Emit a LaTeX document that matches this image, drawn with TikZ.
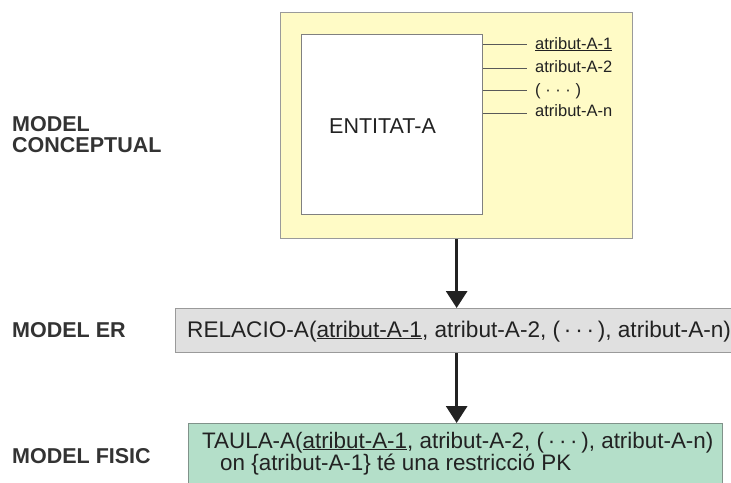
\documentclass[tikz,border=0pt]{standalone}
\usepackage{fontspec}
\setmainfont{Liberation Sans}
\usetikzlibrary{arrows.meta}
\definecolor{conceptfill}{HTML}{FFFBC6}
\definecolor{boxedge}{HTML}{9A9A9A}
\definecolor{erfill}{HTML}{E0E0E0}
\definecolor{fisfill}{HTML}{B4DFC9}
\definecolor{fisedge}{HTML}{80928A}
\definecolor{ink}{HTML}{222222}
\definecolor{labelink}{HTML}{333333}
\tikzset{
  levelbox/.style={draw=boxedge, line width=1.3pt, inner sep=0pt, anchor=north west},
  bigtxt/.style={font=\fontsize{22.4}{23}\selectfont, text=ink, inner sep=0pt, anchor=base west},
  attrtxt/.style={font=\fontsize{16.5}{18}\selectfont, text=ink, inner sep=0pt, anchor=base west},
  leveltxt/.style={font=\bfseries\fontsize{21.5}{22}\selectfont, text=labelink, inner sep=0pt, anchor=base west, align=left},
  attrline/.style={draw=black!65, line width=0.9pt},
  flow/.style={draw=ink, line width=3pt, -{Triangle[length=17pt,width=21pt]}}
}
\begin{document}
\begin{tikzpicture}[x=1pt,y=-1pt]
\useasboundingbox (0,0) rectangle (731,482);

% level labels
\node[leveltxt] (lcon1) at (12,131) {MODEL};
\node[leveltxt] (lcon2) at (12,152) {CONCEPTUAL};
\node[leveltxt] (ler) at (12,337) {MODEL ER};
\node[leveltxt] (lfis) at (12,463) {MODEL FISIC};

% conceptual model: entity with its attributes
\node[levelbox, fill=conceptfill, minimum width=352pt, minimum height=226pt] (con) at (280,12) {};
\node[draw=black!50, line width=1.2pt, fill=white, inner sep=0pt, anchor=north west,
      minimum width=181pt, minimum height=180pt] (ent) at (301,34) {};
\node[bigtxt, font=\fontsize{21.5}{23}\selectfont] (entname) at (329,133) {ENTITAT-A};

\coordinate (a1) at (527,44);
\coordinate (a2) at (527,68);
\coordinate (a3) at (527,90);
\coordinate (a4) at (527,113);
\draw[attrline] (ent.east |- a1) -- (a1);
\draw[attrline] (ent.east |- a2) -- (a2);
\draw[attrline] (ent.east |- a3) -- (a3);
\draw[attrline] (ent.east |- a4) -- (a4);
\node[attrtxt] (t1) at (535,49) {\underline{atribut-A-1}};
\node[attrtxt] (t2) at (535,72) {atribut-A-2};
\node[attrtxt] (t3) at (535,95) {( · · · )};
\node[attrtxt] (t4) at (535,116) {atribut-A-n};

% relational (ER) model
\node[levelbox, fill=erfill, minimum width=570pt, minimum height=44pt] (er) at (175,308) {};
\node[bigtxt, font=\fontsize{22.6}{24}\selectfont] (ertxt) at (187,337)
  {RELACIO-A(\underline{atribut-A-1}, atribut-A-2, (\,·\,·\,·\,), atribut-A-n)};

% physical model
\node[levelbox, draw=fisedge, fill=fisfill, minimum width=534pt, minimum height=70pt] (fis) at (188,423) {};
\node[bigtxt] (fistxt1) at (202,448)
  {TAULA-A(\underline{atribut-A-1}, atribut-A-2, (\,·\,·\,·\,), atribut-A-n)};
\node[bigtxt] (fistxt2) at (220,470) {on \{atribut-A-1\} té una restricció PK};

% transformations between levels
\draw[flow] (con.south) -- (con.south |- er.north);
\draw[flow] (con.south |- er.south) -- (con.south |- fis.north);
\end{tikzpicture}
\end{document}
